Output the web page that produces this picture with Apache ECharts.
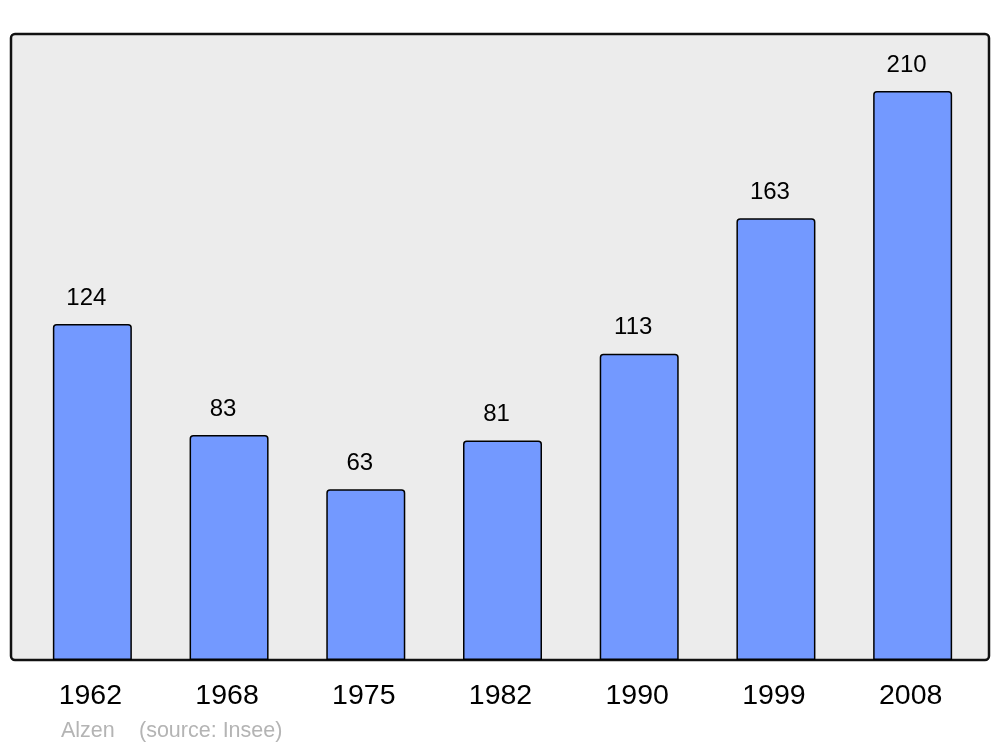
<!DOCTYPE html>
<html>
<head>
<meta charset="utf-8">
<script src="https://cdn.jsdelivr.net/npm/echarts@6/dist/echarts.min.js"></script>
<style>html,body{margin:0;padding:0;background:#fff;}#c{width:1000px;height:747px;}</style>
</head>
<body>
<div id="c"></div>
<script>
const years = ['1962', '1968', '1975', '1982', '1990', '1999', '2008'];
const population = [124, 83, 63, 81, 113, 163, 210];
const placeName = 'Alzen';
const sourceText = '(source: Insee)';

const chart = echarts.init(document.getElementById('c'), null, {renderer: 'canvas'});
chart.setOption({
  animation: false,
  backgroundColor: '#ffffff',
  textStyle: {fontFamily: 'Liberation Sans, Arial, sans-serif'},
  grid: {left: 24, right: 19, top: 34, bottom: 87, containLabel: false},
  graphic: [
    {type: 'rect', z: -10, shape: {x: 11, y: 34, width: 978, height: 626, r: 4},
     style: {fill: '#ececec', stroke: '#111111', lineWidth: 2.5}},
    {type: 'text', left: 61, top: 720, style: {text: placeName, fill: '#b4b4b4', font: '21.5px "Liberation Sans", Arial, sans-serif'}},
    {type: 'text', left: 139, top: 720, style: {text: sourceText, fill: '#b4b4b4', font: '21.5px "Liberation Sans", Arial, sans-serif'}}
  ],
  xAxis: {
    type: 'category', data: years,
    axisLine: {show: false}, axisTick: {show: false},
    axisLabel: {color: '#000', fontSize: 28.5, margin: 22, padding: [0, 4, 0, 0], fontFamily: 'Liberation Sans, Arial, sans-serif'}
  },
  yAxis: {
    type: 'value', min: 0, max: 231,
    show: false, splitLine: {show: false}
  },
  series: [{
    type: 'bar', data: population, barWidth: 79,
    itemStyle: {color: '#7399ff', borderColor: '#000', borderWidth: 1.5, borderRadius: [3, 3, 0, 0]},
    label: {show: true, position: 'top', distance: 14, offset: [-6, 0], color: '#000', fontSize: 24, fontFamily: 'Liberation Sans, Arial, sans-serif'}
  }]
});
</script>
</body>
</html>
